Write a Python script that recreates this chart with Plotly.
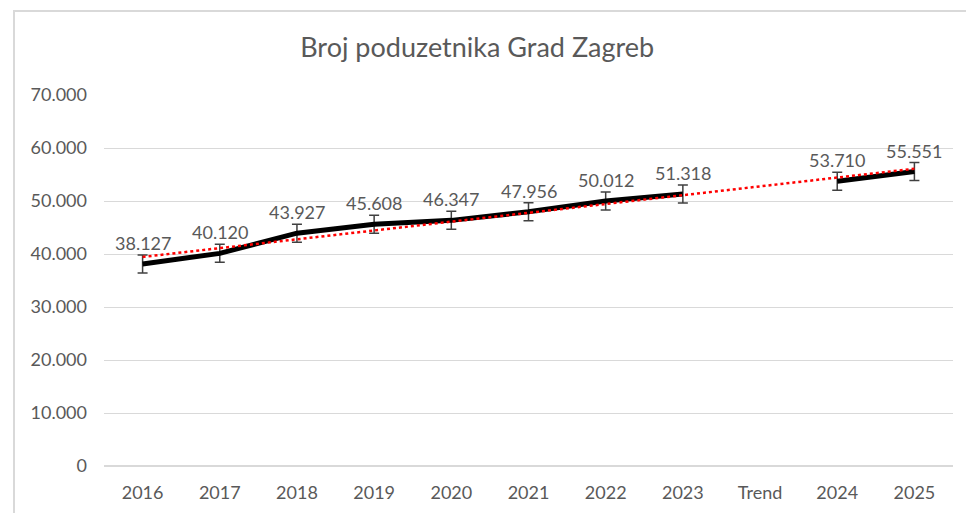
import numpy as np
import plotly.graph_objects as go

categories = ["2016", "2017", "2018", "2019", "2020", "2021", "2022", "2023", "Trend", "2024", "2025"]
poduzetnici = [38127, 40120, 43927, 45608, 46347, 47956, 50012, 51318, None, 53710, 55551]
error_plus_minus = 1700
y_ticks = [0, 10000, 20000, 30000, 40000, 50000, 60000, 70000]

x_pos = np.arange(1, len(categories) + 1)

# Linear trendline like Excel's (the blank category keeps its slot on the axis)
mask = np.array([v is not None for v in poduzetnici])
y_known = np.array([v for v in poduzetnici if v is not None], dtype=float)
slope, intercept = np.polyfit(x_pos[mask], y_known, 1)
trend_y = slope * x_pos + intercept

grey_text = "#595959"
font_family = "Lato, 'Open Sans', sans-serif"

fig = go.Figure()
fig.add_trace(
    go.Scatter(
        x=x_pos,
        y=poduzetnici,
        mode="lines",
        line=dict(color="black", width=5),
        error_y=dict(
            type="constant",
            value=error_plus_minus,
            color="#404040",
            thickness=1.5,
            width=5,
        ),
        connectgaps=False,
        showlegend=False,
        hoverinfo="y",
    )
)
fig.add_trace(
    go.Scatter(
        x=x_pos,
        y=trend_y,
        mode="lines",
        line=dict(color="#ff0000", width=2.5, dash="dot"),
        showlegend=False,
        hoverinfo="skip",
    )
)

# Data labels above each point
for xp, v in zip(x_pos, poduzetnici):
    if v is None:
        continue
    fig.add_annotation(
        x=xp,
        y=v,
        text=f"{v:,}".replace(",", "."),
        showarrow=False,
        yshift=21,
        font=dict(size=18, color=grey_text, family=font_family),
    )

# outer chart border (Excel chart area)
fig.add_shape(
    type="rect",
    xref="paper",
    yref="paper",
    x0=-0.106,
    x1=1.03,
    y0=-0.2,
    y1=1.2264,
    line=dict(color="#d9d9d9", width=2),
    layer="below",
)

fig.update_layout(
    width=966,
    height=513,
    margin=dict(l=104, r=13, t=95, b=47),
    paper_bgcolor="white",
    plot_bgcolor="white",
    separators=",.",
    title=dict(
        text="Broj poduzetnika Grad Zagreb",
        x=0.494,
        xref="container",
        xanchor="center",
        y=0.908,
        yref="container",
        yanchor="middle",
        font=dict(size=27, color=grey_text, family=font_family),
    ),
    xaxis=dict(
        range=[0.5, len(categories) + 0.5],
        tickvals=x_pos,
        ticktext=categories,
        showgrid=False,
        zeroline=False,
        showline=False,
        ticks="",
        automargin=False,
        ticklabelstandoff=14,
        tickfont=dict(size=18, color=grey_text, family=font_family),
    ),
    yaxis=dict(
        range=[0, 70000],
        tickvals=y_ticks,
        tickformat=",d",
        showgrid=True,
        gridcolor="#d9d9d9",
        gridwidth=1,
        zeroline=True,
        zerolinecolor="#d9d9d9",
        zerolinewidth=2,
        showline=False,
        ticks="",
        automargin=False,
        ticklabelstandoff=16,
        tickfont=dict(size=18, color=grey_text, family=font_family),
    ),
)

# drop the browser's default body margin so the figure sits at the top-left corner
fig.write_html(
    "out.html",
    config={"displayModeBar": False},
    post_script="document.body.style.margin='0';",
)
